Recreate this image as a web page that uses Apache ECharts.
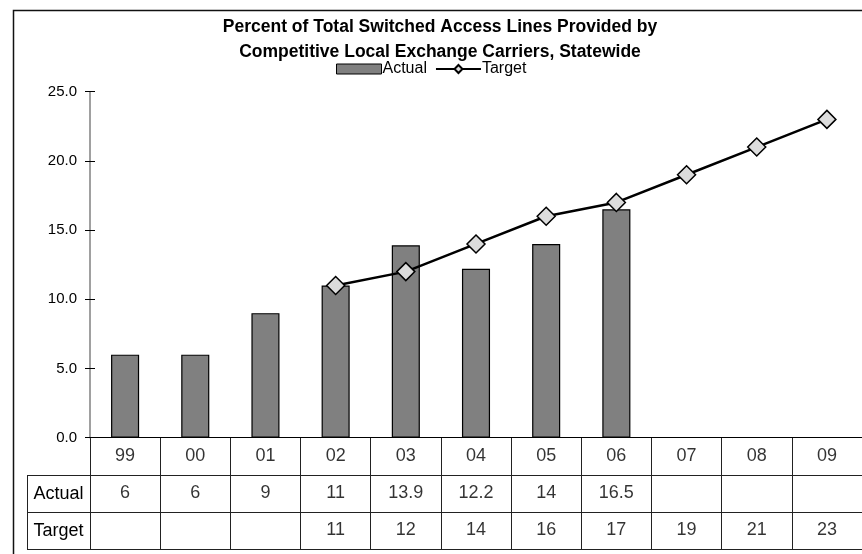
<!DOCTYPE html>
<html>
<head>
<meta charset="utf-8">
<script src="https://cdn.jsdelivr.net/npm/echarts@6/dist/echarts.min.js"></script>
<style>html,body{margin:0;padding:0;background:#fff;}#c{width:862px;height:554px;}</style>
</head>
<body>
<div id="c"></div>
<script>
var categories = ['99','00','01','02','03','04','05','06','07','08','09'];
var actual = [6, 6, 9, 11, 13.9, 12.2, 14, 16.5, null, null, null];
var target = [null, null, null, 11, 12, 14, 16, 17, 19, 21, 23];
var yTicks = {min: 0, max: 25, interval: 5};
var rowNames = ['Actual', 'Target'];
var titleText = 'Percent of Total Switched Access Lines Provided by\nCompetitive Local Exchange Carriers, Statewide';

var FONT = '"Liberation Sans", Arial, sans-serif';
var chart = echarts.init(document.getElementById('c'));

var cells = [];
categories.forEach(function (c, i) {
  cells.push([c, 'Year', c]);
  if (actual[i] != null) cells.push([c, 'Actual', String(actual[i])]);
  if (target[i] != null) cells.push([c, 'Target', String(target[i])]);
});

var lineColor = '#222';
var option = {
  backgroundColor: '#fff',
  animation: false,
  textStyle: {fontFamily: FONT, color: '#000'},
  title: {
    text: titleText,
    left: 435, top: 10, textAlign: 'center',
    textStyle: {fontFamily: FONT, fontSize: 17.5, fontWeight: 'bold', color: '#000', lineHeight: 25}
  },
  legend: {
    left: 331, top: 56,
    itemWidth: 45, itemHeight: 10, itemGap: 8,
    textStyle: {fontFamily: FONT, fontSize: 16, color: '#000', padding: [0, 0, 0, -4]},
    data: [{name: 'Actual', icon: 'rect', itemStyle: {borderWidth: 1}}, {name: 'Target'}]
  },
  graphic: [{
    type: 'rect', silent: true,
    shape: {x: 13.5, y: 10.5, width: 1000, height: 1000},
    style: {fill: 'none', stroke: '#111', lineWidth: 1.5}
  }],
  grid: [
    {left: 90, top: 91.7, width: 775, height: 346},
    {left: 90, top: 437.7, width: 775, height: 111.3},
    {left: 27, top: 475.5, width: 63, height: 73.5}
  ],
  xAxis: [
    {type: 'category', gridIndex: 0, data: categories,
     axisLine: {show: true, lineStyle: {color: '#000', width: 1}},
     axisTick: {show: false}, axisLabel: {show: false}, splitLine: {show: false}},
    {type: 'category', gridIndex: 1, data: categories,
     axisLine: {show: false}, axisTick: {show: false}, axisLabel: {show: false},
     splitLine: {show: true, interval: 0, lineStyle: {color: lineColor, width: 1}}},
    {type: 'category', gridIndex: 2, data: [''], show: false}
  ],
  yAxis: [
    {type: 'value', gridIndex: 0, min: yTicks.min, max: yTicks.max, interval: yTicks.interval,
     axisLine: {show: true, lineStyle: {color: '#808080', width: 1.5}},
     axisTick: {show: true, length: 5, lineStyle: {color: '#000'}},
     axisLabel: {margin: 13, fontSize: 15, color: '#000', fontFamily: FONT,
       formatter: function (v) { return v.toFixed(1); }},
     splitLine: {show: false}},
    {type: 'value', gridIndex: 0, position: 'left', min: yTicks.min, max: yTicks.max, interval: yTicks.interval,
     axisLine: {show: false},
     axisTick: {show: true, inside: true, length: 5, lineStyle: {color: '#000'}},
     axisLabel: {show: false}, splitLine: {show: false}},
    {type: 'category', gridIndex: 1, inverse: true, data: ['Year'].concat(rowNames),
     axisLine: {show: false}, axisTick: {show: false}, axisLabel: {show: false},
     splitLine: {show: true, interval: 0, lineStyle: {color: lineColor, width: 1}}},
    {type: 'category', gridIndex: 2, inverse: true, data: rowNames,
     axisLine: {show: true, lineStyle: {color: lineColor, width: 1}},
     axisTick: {show: false},
     axisLabel: {inside: true, margin: 31.5, align: 'center', fontSize: 18, color: '#000', fontFamily: FONT},
     splitLine: {show: true, interval: 0, lineStyle: {color: lineColor, width: 1}}}
  ],
  series: [
    {name: 'Actual', type: 'bar', xAxisIndex: 0, yAxisIndex: 0, data: actual, barWidth: '40%',
     itemStyle: {color: '#808080', borderColor: '#000', borderWidth: 1.2}},
    {name: 'Target', type: 'line', xAxisIndex: 0, yAxisIndex: 0, data: target,
     symbol: 'diamond', symbolSize: 18, showAllSymbol: true,
     lineStyle: {color: '#000', width: 2.5},
     itemStyle: {color: '#dcdcdc', borderColor: '#000', borderWidth: 1.5}},
    {name: 'table', type: 'scatter', xAxisIndex: 1, yAxisIndex: 2, data: cells,
     symbolSize: 0, silent: true,
     label: {show: true, position: 'inside', fontSize: 18, color: '#000', fontFamily: FONT,
       formatter: function (p) { return p.value[2]; }}}
  ]
};
chart.setOption(option);
</script>
</body>
</html>
